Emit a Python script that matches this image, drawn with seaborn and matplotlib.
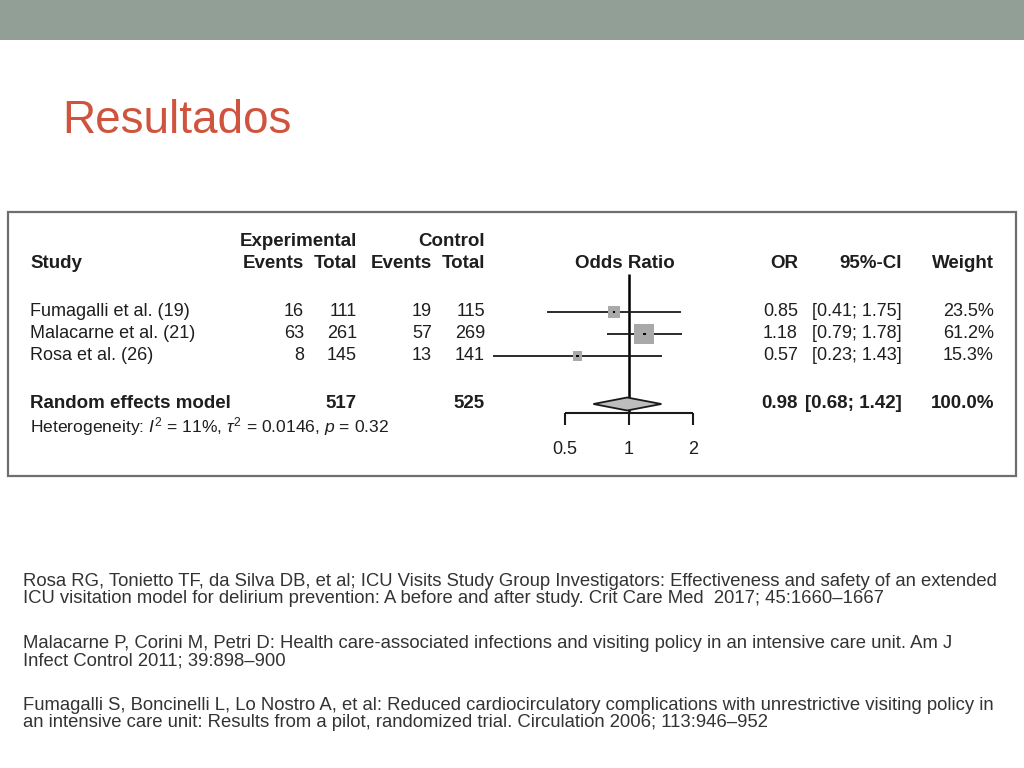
# forest plot slide: visiting policy and delirium, odds ratios

import matplotlib.pyplot as plt
import pandas as pd
import seaborn as sns
from matplotlib.patches import Polygon, Rectangle

# study data
studies = ["Fumagalli et al. (19)", "Malacarne et al. (21)", "Rosa et al. (26)"]
exp_events = [16, 63, 8]
exp_total = [111, 261, 145]
ctl_events = [19, 57, 13]
ctl_total = [115, 269, 141]
odds_ratio = [0.85, 1.18, 0.57]
ci_low = [0.41, 0.79, 0.23]
ci_high = [1.75, 1.78, 1.43]
weight = [23.5, 61.2, 15.3]

# pooled estimate
model_label = "Random effects model"
model_exp_total = 517
model_ctl_total = 525
model_or = 0.98
model_low = 0.68
model_high = 1.42
model_weight = 100.0
het_i2 = 11
het_tau2 = 0.0146
het_p = 0.32

axis_ticks = [0.5, 1, 2]

references = [
    ["Rosa RG, Tonietto TF, da Silva DB, et al; ICU Visits Study Group Investigators: Effectiveness and safety of an extended",
     "ICU visitation model for delirium prevention: A before and after study. Crit Care Med  2017; 45:1660\u20131667"],
    ["Malacarne P, Corini M, Petri D: Health care-associated infections and visiting policy in an intensive care unit. Am J",
     "Infect Control 2011; 39:898\u2013900"],
    ["Fumagalli S, Boncinelli L, Lo Nostro A, et al: Reduced cardiocirculatory complications with unrestrictive visiting policy in",
     "an intensive care unit: Results from a pilot, randomized trial. Circulation 2006; 113:946\u2013952"],
]

# layout (pixel rows of the slide)
row_y = [312, 334, 356]
model_y = 404
het_y = 427
head1_y = 242
head2_y = 264
axis_y = 413
ref_y = [586, 648, 710]
ref_gap = 17

sns.set_theme(style="white")
plt.rcParams["font.family"] = ["Liberation Sans", "DejaVu Sans"]
plt.rcParams["mathtext.fontset"] = "custom"
plt.rcParams["mathtext.rm"] = "Liberation Sans"
plt.rcParams["mathtext.it"] = "Liberation Sans:italic"

TXT = "#1e1e1e"
fig = plt.figure(figsize=(10.24, 7.68), dpi=100)

# slide background in pixel coordinates
bg = fig.add_axes([0, 0, 1, 1])
bg.set_xlim(0, 1024)
bg.set_ylim(768, 0)
bg.axis("off")
bg.add_patch(Rectangle((0, 0), 1024, 40, color="#929f97", lw=0))
bg.text(62, 133, "Resultados", fontsize=33, color="#d0533e", va="baseline")
bg.add_patch(Rectangle((8, 212), 1008, 264, fill=False, ec="#6e6e6e", lw=1.6))

# table headers
fs = 13
hb = dict(fontsize=13.5, weight="bold", color=TXT, va="center")
bg.text(30, head2_y, "Study", **hb)
bg.text(240, head1_y, "Experimental", **hb)
bg.text(485, head1_y, "Control", ha="right", **hb)
for x, lab in zip([304, 357, 432, 485], ["Events", "Total", "Events", "Total"]):
    bg.text(x, head2_y, lab, ha="right", **hb)
bg.text(625, head2_y, "Odds Ratio", ha="center", **hb)
bg.text(798, head2_y, "OR", ha="right", **hb)
bg.text(902, head2_y, "95%-CI", ha="right", **hb)
bg.text(994, head2_y, "Weight", ha="right", **hb)

# study rows
rt = dict(fontsize=fs, color=TXT, va="center", ha="right")
for i, y in enumerate(row_y):
    bg.text(30, y, studies[i], fontsize=fs, color=TXT, va="center")
    bg.text(304, y, f"{exp_events[i]}", **rt)
    bg.text(357, y, f"{exp_total[i]}", **rt)
    bg.text(432, y, f"{ctl_events[i]}", **rt)
    bg.text(485, y, f"{ctl_total[i]}", **rt)
    bg.text(798, y, f"{odds_ratio[i]:.2f}", **rt)
    bg.text(902, y, f"[{ci_low[i]:.2f}; {ci_high[i]:.2f}]", **rt)
    bg.text(994, y, f"{weight[i]:.1f}%", **rt)

# pooled row
bg.text(30, model_y, model_label, **hb)
bg.text(357, model_y, f"{model_exp_total}", ha="right", **hb)
bg.text(485, model_y, f"{model_ctl_total}", ha="right", **hb)
bg.text(798, model_y, f"{model_or:.2f}", ha="right", **hb)
bg.text(902, model_y, f"[{model_low:.2f}; {model_high:.2f}]", ha="right", **hb)
bg.text(994, model_y, f"{model_weight:.1f}%", ha="right", **hb)
bg.text(30, het_y, rf"Heterogeneity: $I^2$ = {het_i2}%, $\tau^2$ = {het_tau2}, $p$ = {het_p}",
        fontsize=12.6, color=TXT, va="center")

# references at the bottom
for y, lines in zip(ref_y, references):
    for k, line in enumerate(lines):
        bg.text(23, y + k * ref_gap, line, fontsize=13.3, color="#333333", va="baseline")

# forest panel on a log2 scale
ax = fig.add_axes([480 / 1024, 1 - 476 / 768, 240 / 1024, 264 / 768])
ax.set_xscale("log", base=2)
ax.set_xlim(0.199, 2.68)
ax.set_ylim(476, 212)
ax.axis("off")
ax.patch.set_alpha(0)

df = pd.DataFrame({"study": studies, "or": odds_ratio, "lo": ci_low,
                   "hi": ci_high, "w": weight, "y": row_y})

ax.vlines(1, 274, axis_y, color="black", lw=1.8, zorder=1)
ax.hlines(df["y"], df["lo"], df["hi"], color="#1a1a1a", lw=1.3, zorder=2)
sns.scatterplot(data=df, x="or", y="y", size="w", sizes=(42, 210), marker="s",
                color="#a9a9a9", edgecolor="none", legend=False, ax=ax, zorder=3)
sns.scatterplot(data=df, x="or", y="y", marker="s", s=4, color="black",
                edgecolor="none", legend=False, ax=ax, zorder=4)

# pooled diamond
half_h = 6.5
ax.add_patch(Polygon([(model_low, model_y), (model_or, model_y - half_h),
                      (model_high, model_y), (model_or, model_y + half_h)],
                     closed=True, fc="#bdbdbd", ec="#1a1a1a", lw=1.3, zorder=5))

# bracket axis
ax.hlines(axis_y, axis_ticks[0], axis_ticks[-1], color="#1a1a1a", lw=1.5)
ax.vlines(axis_ticks, axis_y, axis_y + 12, color="#1a1a1a", lw=1.5)
for t in axis_ticks:
    ax.text(t, 450, f"{t:g}", fontsize=fs, color=TXT, ha="center", va="center")
ax.set_xlabel("")
ax.set_ylabel("")

fig.savefig("out.png", dpi=100)
